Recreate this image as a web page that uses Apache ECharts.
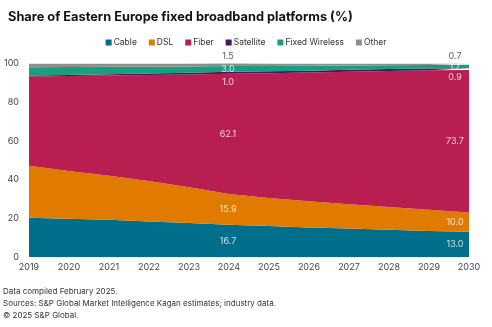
<!DOCTYPE html>
<html><head><meta charset="utf-8">
<script src="https://cdn.jsdelivr.net/npm/echarts@6/dist/echarts.min.js"></script>
<style>html,body{margin:0;padding:0;background:#fff}#c{width:492px;height:327px}</style>
</head><body><div id="c"></div>
<script>
const years = ['2019','2020','2021','2022','2023','2024','2025','2026','2027','2028','2029','2030'];
const cable = [20.3,19.8,19.2,18.4,17.6,16.7,16.0,15.3,14.7,14.1,13.5,13.0];
const dsl = [26.8,24.7,22.8,20.9,18.4,15.9,14.5,13.5,12.6,11.8,10.9,10.0];
const fiber = [46.2,49.0,51.8,54.7,58.3,62.1,64.5,66.5,68.5,70.2,72.1,73.7];
const satellite = [0.5,0.6,0.7,0.8,0.9,1.0,1.0,1.0,1.0,1.0,0.9,0.9];
const fixedWireless = [4.3,4.1,3.8,3.5,3.2,3.0,2.7,2.5,2.2,2.0,1.8,1.7];
const other = [1.9,1.8,1.7,1.7,1.6,1.5,1.3,1.2,1.0,0.9,0.8,0.7];
const labelYears = [5, 11];
const yTicks = [0,20,40,60,80,100];

const names = ['Cable','DSL','Fiber','Satellite','Fixed Wireless','Other'];
const colors = ['#006F8C','#E07B00','#B81E4F','#4A1560','#1A9F7E','#8E8E8E'];
const all = [cable,dsl,fiber,satellite,fixedWireless,other];

const series = all.map((d,i)=>({
  name: names[i], type:'line', stack:'s', data:d, symbol:'none',
  lineStyle:{width:0}, areaStyle:{color:colors[i], opacity:1}, itemStyle:{color:colors[i]},
  emphasis:{disabled:true}
}));

const labelData = [];
labelYears.forEach(idx=>{
  let base = 0;
  const isLast = idx === years.length-1;
  all.forEach((d,i)=>{
    const v = d[idx];
    let mid = base + v/2;
    let dy = 0, col = '#fff';
    if (i===3) { dy = isLast ? 8 : 10; }
    if (i===5) { dy = -8; col = '#333'; }
    labelData.push({value:[years[idx], mid], label:{show:true, formatter:v.toFixed(1), offset:[isLast?-14:-1, dy], color:col}});
    base += v;
  });
});
series.push({type:'scatter', data:labelData, symbolSize:0, clip:false, silent:true,
  label:{show:true, position:'inside', fontSize:9, fontFamily:'Inter'}, z:10});

const chart = echarts.init(document.getElementById('c'), null, {renderer:'canvas'});
chart.setOption({
  animation:false,
  color: colors,
  title:{text:'Share of Eastern Europe fixed broadband platforms (%)', left:3, top:6,
    textStyle:{fontSize:12.8, fontWeight:'bold', color:'#111', fontFamily:'Inter'}},
  legend:{data:names, top:33, left:'center', itemWidth:6, itemHeight:6, itemGap:12,
    icon:'rect', textStyle:{fontSize:8.5, color:'#333', fontFamily:'Inter', padding:[0,0,0,-3]}},
  grid:{left:29, right:23, top:63.5, bottom:70},
  xAxis:{type:'category', data:years, boundaryGap:false,
    axisLine:{show:false}, axisTick:{show:false},
    axisLabel:{fontSize:9, color:'#444', fontFamily:'Inter', margin:6}},
  yAxis:{type:'value', min:0, max:100, interval:20,
    splitLine:{show:false}, axisLine:{show:false}, axisTick:{show:false},
    axisLabel:{fontSize:9, color:'#444', fontFamily:'Inter', margin:10}},
  series: series,
  graphic:[
    {type:'text', left:3, top:288, style:{text:'Data compiled February 2025.', font:'8px Inter', fill:'#333'}},
    {type:'text', left:3, top:300, style:{text:'Sources: S&P Global Market Intelligence Kagan estimates; industry data.', font:'8px Inter', fill:'#333'}},
    {type:'text', left:3, top:312, style:{text:'\u00a9 2025 S&P Global.', font:'8px Inter', fill:'#333'}}
  ]
});
</script></body></html>
